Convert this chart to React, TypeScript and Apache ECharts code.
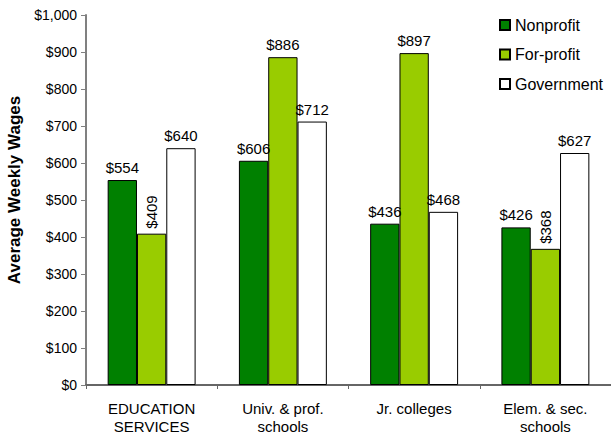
import React, { useEffect, useRef } from "react";
import * as echarts from "echarts";

const categories = ["EDUCATION\nSERVICES", "Univ. & prof.\nschools", "Jr. colleges", "Elem. & sec.\nschools"];
const nonprofit = [554, 606, 436, 426];
const forprofit = [409, 886, 897, 368];
const government = [640, 712, 468, 627];
const rotatedForProfit = [true, false, false, true];

const FONT = "Liberation Sans, Arial, sans-serif";

export default function App() {
  const ref = useRef<HTMLDivElement>(null);
  useEffect(() => {
    if (!ref.current) return;
    const chart = echarts.init(ref.current, null, { renderer: "svg" });
    const topLabel = {
      show: true,
      position: "top" as const,
      distance: 5,
      color: "#000",
      fontSize: 15,
      fontFamily: FONT,
      formatter: (p: any) => "$" + p.value,
    };
    chart.setOption({
      animation: false,
      backgroundColor: "#fff",
      textStyle: { fontFamily: FONT },
      grid: { left: 86, right: 0, top: 15, bottom: 50, containLabel: false, outerBoundsMode: "none" },
      legend: {
        orient: "vertical",
        left: 499,
        top: 17,
        padding: 0,
        itemWidth: 10,
        itemHeight: 10,
        itemGap: 13.5,
        icon: "rect",
        textStyle: { fontSize: 16, color: "#000", fontFamily: FONT },
        data: ["Nonprofit", "For-profit", "Government"],
      },
      xAxis: {
        type: "category",
        data: categories,
        axisLine: { lineStyle: { color: "#666", width: 2 } },
        axisTick: { show: true, length: 4, lineStyle: { color: "#666" } },
        axisLabel: { color: "#000", fontSize: 15, margin: 14, lineHeight: 18, fontFamily: FONT },
      },
      yAxis: {
        type: "value",
        min: 0,
        max: 1000,
        interval: 100,
        name: "Average Weekly Wages",
        nameLocation: "middle",
        nameGap: 62,
        nameRotate: 90,
        nameTextStyle: {
          fontSize: 17,
          fontWeight: "bold",
          color: "#000",
          fontFamily: FONT,
          padding: [0, 0, 0, 20],
        },
        axisLine: { show: true, lineStyle: { color: "#808080", width: 2 } },
        axisTick: { show: true, length: 5, lineStyle: { color: "#808080" } },
        splitLine: { show: false },
        axisLabel: {
          color: "#000",
          fontSize: 14,
          margin: 9,
          fontFamily: FONT,
          formatter: (v: number) => "$" + v.toLocaleString("en-US"),
        },
      },
      series: [
        {
          name: "Nonprofit",
          type: "bar",
          data: nonprofit,
          barGap: "0%",
          barCategoryGap: "33%",
          itemStyle: { color: "#008000", borderColor: "#000", borderWidth: 1 },
          label: topLabel,
        },
        {
          name: "For-profit",
          type: "bar",
          data: forprofit.map((v, i) =>
            rotatedForProfit[i]
              ? {
                  value: v,
                  label: { rotate: 90, align: "left", verticalAlign: "middle", distance: 5 },
                }
              : v
          ),
          itemStyle: { color: "#99cc00", borderColor: "#000", borderWidth: 1 },
          label: topLabel,
        },
        {
          name: "Government",
          type: "bar",
          data: government,
          itemStyle: { color: "#ffffff", borderColor: "#000", borderWidth: 1 },
          label: topLabel,
        },
      ],
    });
    return () => chart.dispose();
  }, []);
  return <div ref={ref} style={{ width: 611, height: 435, position: "absolute", left: 0, top: 0 }} />;
}
